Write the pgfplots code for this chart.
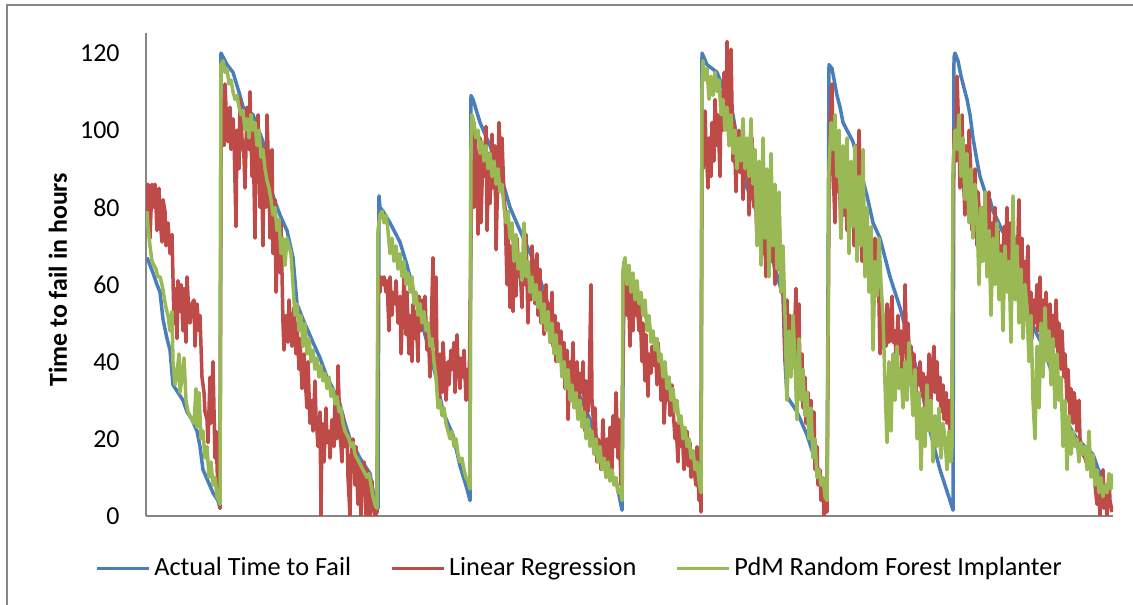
\documentclass[border=0pt]{standalone}
\usepackage{pgfplots}
\pgfplotsset{compat=1.18}
\usepackage{fontspec}
\setmainfont{Carlito}
\definecolor{cblue}{RGB}{74,126,187}
\definecolor{cred}{RGB}{190,75,72}
\definecolor{cgreen}{RGB}{152,185,84}
\definecolor{cgray}{RGB}{134,134,134}
\begin{document}
\begin{tikzpicture}
\useasboundingbox (0,0) rectangle (566.5bp,302.5bp);
\draw[cgray, line width=1.1bp] (3.5bp,-10bp) -- (3.5bp,300bp) -- (600bp,300bp);
\begin{axis}[
  at={(73bp,44.5bp)}, anchor=south west,
  scale only axis, width=483.5bp, height=241.5bp,
  xmin=146, xmax=1113, ymin=0, ymax=125.2,
  axis x line*=bottom, axis y line*=left,
  axis line style={cgray, line width=1bp},
  xtick=\empty, ytick={0,20,...,120},
  major tick length=0pt,
  /pgf/number format/assume math mode=true,
  yticklabel style={font=\fontsize{13}{15}\selectfont, inner sep=0pt, anchor=east, xshift=-13bp},
  ylabel={Time to fail in hours},
  ylabel style={font=\fontsize{13}{15}\selectfont\bfseries, at={(axis description cs:-0.091,0.489)}, anchor=center},
  legend columns=3,
  legend style={at={(axis description cs:0.4473,-0.1077)}, anchor=center, draw=none, fill=none,
    font=\fontsize{13.2}{16}\selectfont, nodes={inner sep=0pt},
    /tikz/every odd column/.append style={column sep=2bp},
    /tikz/every even column/.append style={column sep=19.5bp}},
  legend image code/.code={\draw[#1, line width=1.5bp] (0bp,0bp) -- (26bp,0bp);},
  every axis plot/.append style={line width=1.75bp, line join=round},
]
% Actual
\addplot[cblue] coordinates {
(147,67) (150,65) (153,63) (157,60) (160,58) (163,51) (167,46) (170,43) (173,34) (178,32) (183,30) (187,27) (192,25) (197,22) (200,18) (203,12) (208,9) (213,6) (218,4) (220,2)
(221,120) (227,117) (233,115) (240,109) (243,106) (253,104) (263,97) (268,90) (273,83) (280,78) (287,74) (293,67) (297,55) (303,51) (313,45) (320,41) (327,36) (333,33) (340,29) (345,24) (350,20) (360,15) (370,11) (374,5) (378,2)
(379,83) (380,80) (383,79) (390,76) (400,71) (407,65) (417,55) (427,45) (437,35) (443,27) (453,21) (460,13) (467,7) (470,4)
(471,109) (473,108) (480,102) (490,96) (500,89) (510,80) (520,74) (527,70) (537,64) (550,53) (563,44) (570,37) (580,31) (590,25) (600,15) (610,11) (617,8) (622,1.5)
(624,66) (630,62) (637,57) (647,51) (653,46) (663,38) (673,31) (683,22) (690,16) (697,9) (701,5)
(702,120) (707,117) (717,115) (723,111) (733,104) (740,93) (747,85) (757,80) (763,72) (773,66) (783,57) (785,40) (787,31) (797,27) (807,21) (817,13) (827,2)
(829,117) (832,116) (837,109) (840,106) (843,102) (853,97) (860,90) (867,83) (873,76) (880,72) (890,62) (900,54) (910,44) (920,35) (930,22) (940,12) (950,4) (953,1.5)
(954,119) (955,120) (958,118) (961,114) (964,111) (967,108) (970,104) (973,98) (977,92) (980,88) (985,84) (990,82) (993,79) (997,77) (1002,74) (1007,72) (1010,71) (1015,66) (1020,62) (1027,58) (1032,50) (1037,47) (1043,44) (1048,40) (1055,35) (1060,31) (1065,26) (1070,23) (1077,20) (1085,18) (1093,16) (1097,13) (1100,11) (1105,6) (1110,3) (1112,2)
};
\addlegendentry{Actual Time to Fail}
% Linear regression
\addplot[cred] coordinates {
(147,78) (148,86) (150,72) (152,86) (154,80) (155,86) (157,74) (159,85) (160,77) (162,71) (163,82) (165,79) (166,70) (168,76) (170,68) (172,73) (174,50) (175,59) (177,46) (178,61) (180,53) (181,60) (183,48) (184,59) (186,45) (187,62) (189,52) (190,50) (192,55) (194,56) (195,44) (197,55) (199,48) (200,52) (202,36) (204,32) (205,27) (207,25) (208,19) (210,36) (211,24) (213,40) (215,15) (216,22) (218,5) (219,8) (220,2)
(221,92) (222,108) (224,96) (225,112) (227,100) (228,97) (230,106) (231,95) (233,103) (234,98) (236,75) (237,100) (239,90) (240,108) (242,98) (244,93) (245,85) (247,106) (249,95) (250,110) (252,88) (253,100) (255,72) (256,95) (258,104) (260,80) (261,97) (263,70) (264,91) (266,80) (267,104) (269,86) (270,72) (272,95) (273,68) (275,82) (276,58) (278,75) (280,63) (281,76) (283,50) (284,43) (286,52) (288,45) (289,56) (291,48) (292,44) (294,54) (296,42) (297,50) (299,38) (300,46) (302,33) (304,42) (305,36) (307,28) (308,40) (310,24) (312,30) (313,22) (315,35) (316,26) (318,18) (320,27) (321,0) (322,24) (324,14) (326,28) (327,19) (329,22) (330,15) (332,25) (334,18) (335,31) (337,20) (338,39) (340,22) (342,14) (343,26) (345,18) (347,22) (348,10) (350,0) (351,15) (353,20) (355,8) (356,18) (358,3) (359,13) (361,0) (362,10) (364,14) (366,0) (367,12) (369,4) (370,0) (372,9) (373,2) (375,0) (377,1)
(378,60) (380,58) (381,62) (383,60) (384,62) (386,58) (387,61) (389,48) (390,62) (392,52) (393,58) (395,55) (396,61) (398,50) (400,57) (401,42) (403,55) (404,62) (406,47) (407,58) (409,42) (410,52) (412,40) (413,55) (415,46) (416,53) (418,40) (419,57) (421,48) (422,56) (424,50) (425,57) (427,43) (428,50) (430,36) (431,47) (433,67) (434,44) (436,62) (437,40) (439,30) (440,42) (442,32) (443,45) (445,35) (446,30) (448,40) (449,34) (451,43) (452,38) (454,45) (455,32) (457,47) (458,40) (460,33) (461,41) (463,36) (464,43) (466,30) (467,38) (469,30)
(471,72) (472,92) (474,80) (475,100) (477,88) (478,73) (480,98) (481,76) (483,95) (484,88) (486,101) (487,74) (489,94) (490,81) (492,99) (493,85) (495,96) (496,69) (498,90) (499,102) (501,84) (502,98) (504,83) (505,80) (507,60) (508,75) (510,54) (511,70) (513,53) (514,67) (516,57) (517,72) (519,62) (520,65) (522,54) (523,68) (525,60) (526,73) (528,50) (529,64) (531,56) (532,70) (534,60) (535,55) (537,68) (538,52) (540,64) (541,50) (543,58) (544,47) (546,60) (547,52) (549,55) (550,45) (552,58) (553,44) (555,52) (556,40) (558,50) (559,42) (561,48) (562,37) (564,45) (565,33) (567,43) (568,25) (570,40) (571,30) (573,45) (574,35) (576,30) (577,40) (579,28) (580,37) (582,32) (583,40) (585,22) (586,35) (588,27) (589,32) (591,60) (592,30) (594,22) (595,28) (597,14) (598,20) (600,17) (601,12) (603,25) (604,18) (606,10) (607,20) (609,14) (610,23) (612,12) (613,26) (615,18) (616,32) (618,15) (619,25) (621,8)
(624,60) (625,66) (627,52) (628,62) (630,44) (631,58) (633,48) (634,60) (636,52) (637,56) (639,48) (640,54) (642,40) (643,50) (645,35) (646,47) (648,31) (649,42) (651,37) (652,44) (654,39) (655,46) (657,34) (658,45) (660,38) (661,30) (663,36) (664,24) (666,34) (667,30) (669,36) (670,26) (672,34) (673,28) (675,20) (676,24) (678,14) (679,26) (681,18) (682,23) (684,12) (685,17) (687,22) (688,13) (690,19) (691,10) (693,16) (694,12) (696,8) (697,18) (699,4) (700,12) (701,1)
(702,100) (703,90) (705,105) (706,96) (708,85) (709,98) (711,88) (712,102) (714,92) (715,108) (717,96) (718,104) (720,88) (721,110) (723,100) (724,115) (726,104) (727,123) (729,96) (730,112) (731,121) (733,92) (734,102) (736,84) (737,97) (739,100) (740,89) (742,95) (743,82) (745,96) (746,88) (748,92) (749,78) (751,90) (752,98) (754,80) (755,86) (757,72) (758,84) (760,76) (761,90) (763,68) (764,80) (766,62) (767,78) (769,70) (770,84) (772,66) (773,76) (775,60) (776,72) (778,64) (779,80) (781,58) (782,68) (784,52) (785,40) (787,56) (788,44) (790,52) (791,38) (793,50) (794,44) (796,59) (797,40) (799,55) (800,34) (802,42) (803,28) (805,36) (806,24) (808,32) (809,20) (811,30) (812,22) (814,27) (815,12) (817,18) (818,8) (820,12) (821,4) (823,8) (824,0) (826,5) (827,1)
(829,80) (830,100) (832,112) (833,90) (835,76) (836,98) (838,84) (839,92) (841,72) (842,88) (844,78) (845,92) (847,74) (848,86) (850,82) (851,76) (853,88) (854,70) (856,96) (857,80) (859,100) (860,86) (862,66) (863,74) (865,64) (866,72) (868,66) (869,74) (871,62) (872,70) (874,66) (875,72) (877,60) (878,68) (880,42) (881,55) (883,46) (884,52) (886,44) (887,55) (889,45) (890,50) (892,57) (893,45) (895,48) (896,40) (898,52) (899,42) (901,48) (902,38) (904,46) (905,60) (907,40) (908,50) (910,36) (911,44) (913,32) (914,42) (916,30) (917,38) (919,34) (920,40) (922,31) (923,37) (925,28) (926,36) (928,33) (929,42) (931,30) (932,38) (934,44) (935,32) (937,40) (938,30) (940,36) (941,27) (943,34) (944,25) (946,32) (947,24) (949,30) (950,22) (952,30)
(953,75) (954,100) (956,92) (957,114) (959,98) (960,85) (962,104) (963,90) (965,78) (966,96) (968,85) (969,100) (971,88) (972,74) (974,82) (975,90) (977,70) (978,84) (980,76) (981,66) (983,80) (984,68) (986,78) (987,72) (989,84) (990,66) (992,76) (993,70) (995,80) (996,64) (998,74) (999,60) (1001,70) (1002,58) (1004,75) (1005,64) (1007,80) (1008,62) (1010,76) (1011,66) (1013,74) (1014,58) (1016,72) (1017,64) (1019,82) (1020,60) (1022,72) (1023,55) (1025,66) (1026,60) (1028,70) (1029,52) (1031,58) (1032,46) (1034,56) (1035,50) (1037,60) (1038,48) (1040,62) (1041,50) (1043,56) (1044,45) (1046,58) (1047,52) (1049,44) (1050,55) (1052,40) (1053,52) (1055,44) (1056,56) (1058,42) (1059,50) (1061,38) (1062,48) (1064,36) (1065,42) (1067,30) (1068,38) (1070,26) (1071,33) (1073,24) (1074,32) (1076,28) (1077,22) (1079,30) (1080,20) (1082,17) (1083,16) (1085,15) (1086,14) (1088,16) (1089,13) (1091,15) (1092,12) (1094,14) (1095,8) (1097,3) (1098,10) (1100,0) (1101,6) (1103,12) (1104,2) (1106,8) (1107,0) (1109,10) (1110,4) (1112,1)
};
\addlegendentry{Linear Regression}
% Random forest
\addplot[cgreen] coordinates {
(147,79) (148,75) (150,70) (152,66) (154,65) (156,64) (158,62) (160,62) (162,60) (164,57) (166,54) (168,52) (170,48) (172,53) (173,40) (175,34) (177,37) (179,42) (180,32) (182,36) (184,41) (186,30) (188,27) (190,26) (192,25) (194,24) (196,33) (197,23) (199,32) (201,20) (203,22) (205,15) (207,18) (209,10) (211,14) (213,8) (215,10) (217,5) (219,4) (220,3)
(221,117) (223,118) (225,115) (227,116) (229,112) (231,113) (233,110) (235,108) (237,109) (239,106) (241,104) (243,105) (245,100) (247,103) (249,98) (251,104) (253,100) (255,102) (257,96) (259,100) (261,93) (263,95) (265,90) (267,87) (269,85) (271,82) (273,78) (275,80) (277,74) (279,77) (281,68) (283,72) (285,65) (287,72) (289,70) (291,68) (293,60) (295,52) (297,55) (299,48) (301,52) (303,44) (305,50) (307,42) (309,46) (311,40) (313,43) (315,38) (317,41) (319,36) (321,39) (323,35) (325,37) (327,33) (329,36) (331,31) (333,33) (335,29) (337,31) (339,27) (341,28) (343,24) (345,22) (347,21) (349,20) (351,18) (353,19) (355,16) (357,15) (359,14) (361,13) (363,12) (365,11) (367,10) (369,11) (371,8) (373,5) (375,3) (377,2)
(378,74) (380,78) (382,79) (384,76) (386,78) (388,74) (390,68) (392,72) (394,66) (396,70) (398,64) (400,68) (402,62) (404,66) (406,60) (408,63) (410,58) (412,62) (414,55) (416,58) (418,52) (420,55) (422,50) (424,53) (426,48) (428,50) (430,44) (432,46) (434,40) (436,36) (438,28) (440,30) (442,26) (444,28) (446,24) (448,22) (450,20) (452,22) (454,18) (456,20) (458,16) (460,14) (462,15) (464,12) (466,10) (468,9) (470,7)
(471,96) (472,104) (474,102) (476,98) (478,100) (480,94) (482,97) (484,92) (486,96) (488,90) (490,94) (492,88) (494,92) (496,86) (498,90) (500,84) (502,86) (504,80) (506,76) (508,79) (510,72) (512,76) (514,66) (516,73) (518,64) (520,68) (522,61) (524,76) (526,62) (528,66) (530,58) (532,62) (534,56) (536,60) (538,54) (540,58) (542,50) (544,55) (546,48) (548,53) (550,45) (552,50) (554,42) (556,47) (558,40) (560,44) (562,36) (564,40) (566,33) (568,38) (570,30) (572,34) (574,28) (576,32) (578,25) (580,30) (582,23) (584,27) (586,20) (588,25) (590,18) (592,22) (594,16) (596,20) (598,14) (600,18) (602,12) (604,15) (606,10) (608,14) (610,9) (612,12) (614,8) (616,10) (618,6) (620,7) (622,4)
(623,64) (625,67) (627,60) (629,65) (631,58) (633,63) (635,56) (637,61) (639,55) (641,58) (643,52) (645,56) (647,48) (649,52) (651,45) (653,48) (655,43) (657,46) (659,40) (661,42) (663,36) (665,40) (667,33) (669,36) (671,30) (673,33) (675,27) (677,30) (679,24) (681,26) (683,20) (685,23) (687,18) (689,20) (691,15) (693,17) (695,12) (697,14) (699,9) (701,6)
(702,112) (703,118) (705,113) (707,116) (709,108) (711,114) (713,109) (715,115) (717,110) (719,113) (721,104) (723,108) (725,100) (727,106) (729,96) (731,104) (733,94) (735,100) (737,90) (739,98) (741,92) (743,103) (745,90) (747,98) (749,88) (751,103) (753,86) (755,95) (757,70) (759,92) (761,65) (763,98) (765,72) (767,90) (769,62) (771,94) (773,70) (775,86) (777,64) (779,84) (781,58) (783,70) (785,52) (787,30) (789,48) (791,36) (793,52) (795,40) (797,25) (799,46) (801,30) (803,38) (805,26) (807,32) (809,20) (811,28) (813,15) (815,20) (817,10) (819,12) (821,8) (823,10) (825,5) (827,4)
(829,90) (831,102) (833,95) (835,104) (837,88) (839,100) (841,72) (843,96) (845,80) (847,98) (849,68) (851,92) (853,75) (855,96) (857,66) (859,88) (861,70) (863,95) (865,62) (867,80) (869,58) (871,75) (873,43) (875,66) (877,57) (879,72) (881,60) (883,52) (885,34) (887,19) (889,40) (891,22) (893,42) (895,30) (897,44) (899,33) (901,38) (903,28) (905,40) (907,30) (909,45) (911,36) (913,26) (915,38) (917,20) (919,32) (921,12) (923,28) (925,18) (927,34) (929,22) (931,30) (933,14) (935,26) (937,18) (939,28) (941,15) (943,24) (945,20) (947,12) (949,22) (951,14) (952,18)
(953,90) (955,100) (957,95) (959,104) (961,88) (963,98) (965,82) (967,94) (969,76) (971,90) (973,72) (975,86) (977,78) (979,60) (981,80) (983,66) (985,84) (987,62) (989,74) (991,52) (993,72) (995,60) (997,76) (999,56) (1001,68) (1003,48) (1005,70) (1007,58) (1009,66) (1011,45) (1013,83) (1015,56) (1017,70) (1019,50) (1021,64) (1023,46) (1025,60) (1027,54) (1029,40) (1031,52) (1033,30) (1035,20) (1037,44) (1039,28) (1041,50) (1043,36) (1045,54) (1047,40) (1049,48) (1051,34) (1053,46) (1055,28) (1057,42) (1059,30) (1061,36) (1063,18) (1065,30) (1067,12) (1069,26) (1071,16) (1073,22) (1075,18) (1077,20) (1079,14) (1081,19) (1083,16) (1085,18) (1087,12) (1089,22) (1091,10) (1093,16) (1095,8) (1097,12) (1099,6) (1101,10) (1103,5) (1105,8) (1107,6) (1109,11) (1111,7) (1112,11)
};
\addlegendentry{PdM Random Forest Implanter}
\end{axis}
\end{tikzpicture}
\end{document}
